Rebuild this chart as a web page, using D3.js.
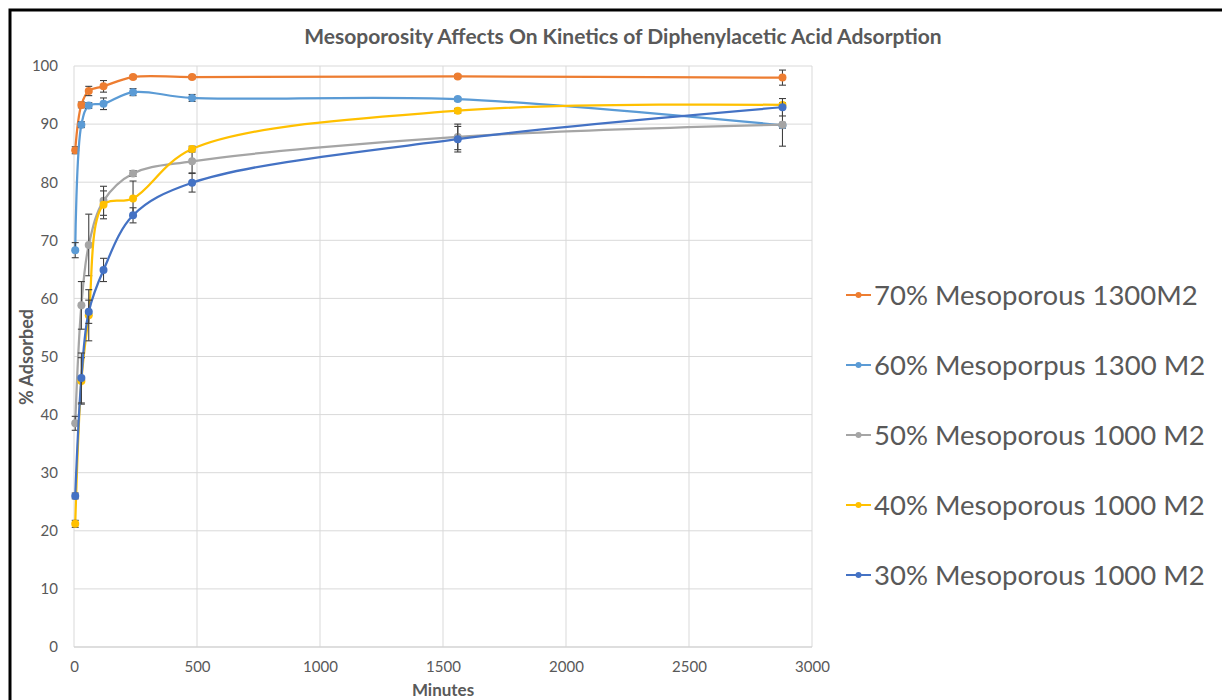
<!DOCTYPE html>
<html>
<head>
<meta charset="utf-8">
<script src="https://cdn.jsdelivr.net/npm/d3@7"></script>
<style>
  body { margin: 0; background: #fff; }
  text { font-family: Lato, "Open Sans", sans-serif; }
</style>
</head>
<body>
<div id="vis-svg"></div>
<script>
// minutes at which samples were taken
var times = [5, 30, 60, 120, 240, 480, 1560, 2880];

// series names (legend order) and colours
var seriesNames = ["70% Mesoporous 1300M2", "60% Mesoporpus 1300 M2", "50% Mesoporous 1000 M2",
  "40% Mesoporous 1000 M2", "30% Mesoporous 1000 M2"];
var seriesColors = ["#ED7D31", "#5B9BD5", "#A5A5A5", "#FFC000", "#4472C4"];

// % adsorbed for each series
var meso70 = [85.5, 93.3, 95.7, 96.5, 98.1, 98.1, 98.2, 98.0];
var meso60 = [68.3, 89.9, 93.2, 93.5, 95.5, 94.5, 94.3, 89.8];
var meso50 = [38.5, 58.8, 69.2, 76.8, 81.5, 83.6, 87.8, 89.9];
var meso40 = [21.2, 45.8, 57.1, 76.1, 77.2, 85.7, 92.3, 93.3];
var meso30 = [26.0, 46.3, 57.7, 64.9, 74.3, 79.9, 87.4, 92.9];

// error bar half heights
var err70 = [0.6, 0.5, 0.8, 1.0, 0.3, 0.3, 0.3, 1.3];
var err60 = [1.3, 0.5, 0.5, 1.0, 0.6, 0.6, 0.3, 0.5];
var err50 = [1.2, 4.1, 5.3, 2.5, 0.5, 2.0, 2.2, 3.7];
var err40 = [0.6, 4.0, 4.4, 2.4, 3.0, 0.5, 0.4, 0.4];
var err30 = [0.5, 4.3, 2.0, 2.0, 1.3, 1.6, 2.2, 1.5];

// tick values
var xTicks = [0, 500, 1000, 1500, 2000, 2500, 3000];
var yTicks = [0, 10, 20, 30, 40, 50, 60, 70, 80, 90, 100];

var W = 1222, H = 700,
  plot = {left: 74, right: 812, top: 66, bottom: 647},
  textColor = "#595959";

var svg = d3.select("#vis-svg").append("svg")
  .attr("width", W)
  .attr("height", H);

var x = d3.scaleLinear().domain([0, 3000]).range([plot.left, plot.right]);
var y = d3.scaleLinear().domain([0, 100]).range([plot.bottom, plot.top]);

// gridlines
svg.append("g")
  .selectAll("line.h")
  .data(yTicks).enter()
  .append("line")
  .attr("x1", plot.left).attr("x2", plot.right)
  .attr("y1", function(d) { return y(d); })
  .attr("y2", function(d) { return y(d); })
  .style("stroke", "#d9d9d9")
  .style("stroke-width", 1);

svg.append("g")
  .selectAll("line.v")
  .data(xTicks).enter()
  .append("line")
  .attr("y1", plot.top).attr("y2", plot.bottom)
  .attr("x1", function(d) { return x(d); })
  .attr("x2", function(d) { return x(d); })
  .style("stroke", "#d9d9d9")
  .style("stroke-width", 1);

// axes (labels only, Excel style)
var xAxis = svg.append("g")
  .attr("transform", "translate(0," + plot.bottom + ")")
  .call(d3.axisBottom(x).tickValues(xTicks).tickFormat(d3.format("d")).tickSize(0).tickPadding(14));
var yAxis = svg.append("g")
  .attr("transform", "translate(" + plot.left + ",0)")
  .call(d3.axisLeft(y).tickValues(yTicks).tickSize(0).tickPadding(16));

[xAxis, yAxis].forEach(function(a) {
  a.select(".domain").remove();
  a.selectAll("text")
    .style("font-size", "15px")
    .style("fill", textColor);
});
svg.append("line")
  .attr("x1", plot.left).attr("x2", plot.right)
  .attr("y1", plot.bottom).attr("y2", plot.bottom)
  .style("stroke", "#d0d0d0");

// build series table
var allValues = [meso70, meso60, meso50, meso40, meso30],
  allErrors = [err70, err60, err50, err40, err30];
var series = seriesNames.map(function(name, i) {
  return {
    name: name,
    color: seriesColors[i],
    points: times.map(function(t, j) { return {t: t, v: allValues[i][j], e: allErrors[i][j]}; })
  };
});

var line = d3.line()
  .x(function(d) { return x(d.t); })
  .y(function(d) { return y(d.v); })
  .curve(d3.curveCatmullRom.alpha(0.5));

var groups = svg.selectAll("g.series")
  .data(series).enter()
  .append("g")
  .attr("class", "series");

groups.append("path")
  .attr("d", function(d) { return line(d.points); })
  .style("fill", "none")
  .style("stroke", function(d) { return d.color; })
  .style("stroke-width", 2.25);

// error bars
var eb = groups.selectAll("g.err")
  .data(function(d) { return d.points; }).enter()
  .append("g")
  .style("stroke", "#404040")
  .style("stroke-width", 1.1);
eb.append("line")
  .attr("x1", function(d) { return x(d.t); })
  .attr("x2", function(d) { return x(d.t); })
  .attr("y1", function(d) { return y(d.v - d.e); })
  .attr("y2", function(d) { return y(d.v + d.e); });
[-1, 1].forEach(function(s) {
  eb.append("line")
    .attr("x1", function(d) { return x(d.t) - 3.5; })
    .attr("x2", function(d) { return x(d.t) + 3.5; })
    .attr("y1", function(d) { return y(d.v + s * d.e); })
    .attr("y2", function(d) { return y(d.v + s * d.e); });
});

// markers
groups.selectAll("circle")
  .data(function(d) { return d.points.map(function(p) { return {p: p, c: d.color}; }); }).enter()
  .append("circle")
  .attr("cx", function(d) { return x(d.p.t); })
  .attr("cy", function(d) { return y(d.p.v); })
  .attr("r", 4)
  .style("fill", function(d) { return d.c; });

// title and axis titles
svg.append("text")
  .attr("x", 623).attr("y", 44)
  .attr("text-anchor", "middle")
  .style("font-size", "21px")
  .style("font-weight", "bold")
  .style("fill", textColor)
  .text("Mesoporosity Affects On Kinetics of Diphenylacetic Acid Adsorption");

svg.append("text")
  .attr("x", x(1500)).attr("y", 696)
  .attr("text-anchor", "middle")
  .style("font-size", "17px")
  .style("font-weight", "bold")
  .style("fill", textColor)
  .text("Minutes");

svg.append("text")
  .attr("transform", "translate(33," + 357 + ") rotate(-90)")
  .attr("text-anchor", "middle")
  .style("font-size", "18px")
  .style("font-weight", "bold")
  .style("fill", textColor)
  .text("% Adsorbed");

// legend
var legend = svg.selectAll("g.legend")
  .data(series).enter()
  .append("g")
  .attr("transform", function(d, i) { return "translate(846," + (295 + i * 70) + ")"; });
legend.append("line")
  .attr("x1", 0).attr("x2", 25)
  .style("stroke", function(d) { return d.color; })
  .style("stroke-width", 2);
legend.append("circle")
  .attr("cx", 12.5).attr("r", 3)
  .style("fill", function(d) { return d.color; });
legend.append("text")
  .attr("x", 28).attr("dy", "0.35em")
  .style("font-size", "27.5px")
  .style("fill", textColor)
  .text(function(d) { return d.name; });

// frame around the chart
svg.append("path")
  .attr("d", "M10,700 L10,10 L1222,10")
  .style("fill", "none")
  .style("stroke", "#000")
  .style("stroke-width", 3);
</script>
</body>
</html>
